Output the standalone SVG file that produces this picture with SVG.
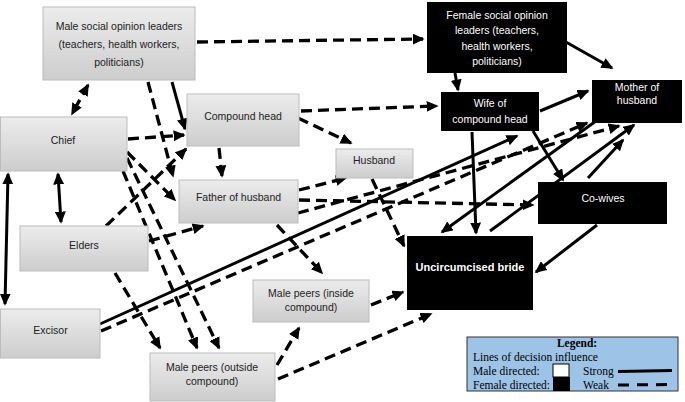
<svg xmlns="http://www.w3.org/2000/svg" width="685" height="402" viewBox="0 0 685 402">
<style>
.g{fill:url(#gr);stroke:#bcbcbc;stroke-width:1}
.b{fill:#000}
.t{font-family:"Liberation Sans",Arial,sans-serif;font-size:10.5px;fill:#222;text-anchor:middle}
.w{font-family:"Liberation Sans",Arial,sans-serif;font-size:10.5px;fill:#fff;text-anchor:middle}
.wb{font-family:"Liberation Sans",Arial,sans-serif;font-size:11px;font-weight:bold;fill:#fff;text-anchor:middle}
.s{stroke:#000;stroke-width:3;fill:none;marker-end:url(#ah)}
.d{stroke:#000;stroke-width:3.3;fill:none;stroke-dasharray:11 6;marker-end:url(#ah)}
.two{marker-start:url(#ah)}
.lg{font-family:"Liberation Serif","Times New Roman",serif;font-size:11.5px;fill:#000}
</style>
<defs>
<linearGradient id="gr" x1="0" y1="0" x2="0" y2="1">
<stop offset="0" stop-color="#ececec"/>
<stop offset="1" stop-color="#cdcdcd"/>
</linearGradient>
<marker id="ah" markerUnits="userSpaceOnUse" markerWidth="12" markerHeight="11" viewBox="0 0 11 10" refX="9.5" refY="5" orient="auto-start-reverse">
<path d="M0,0 L11,5 L0,10 z" fill="#000"/>
</marker>
</defs>

<g id="connectors">
<line class="d" x1="197" y1="42" x2="423" y2="39"/>
<line class="d two" x1="88" y1="85" x2="72" y2="114"/>
<line class="d" x1="148" y1="82" x2="173" y2="176"/>
<line class="d" x1="128" y1="139" x2="184" y2="135"/>
<line class="d" x1="127" y1="152" x2="175" y2="200"/>
<line class="d" x1="123" y1="171" x2="197" y2="348"/>
<line class="d" x1="127" y1="158" x2="219" y2="348"/>
<line class="d" x1="106" y1="226" x2="186" y2="149"/>
<line class="d" x1="149" y1="241" x2="203" y2="226"/>
<line class="d" x1="115" y1="273" x2="160" y2="348"/>
<line class="d" x1="301" y1="111" x2="437" y2="106"/>
<line class="d" x1="298" y1="118" x2="351" y2="143"/>
<line class="d" x1="219" y1="148" x2="222" y2="176"/>
<line class="d" x1="299" y1="190" x2="346" y2="178"/>
<line class="d" x1="299" y1="200" x2="533" y2="205"/>
<line class="d" x1="298" y1="213" x2="619" y2="126"/>
<line class="d" x1="277" y1="225" x2="322" y2="273"/>
<line class="d" x1="372" y1="179" x2="404" y2="246"/>
<line class="d" x1="101" y1="331" x2="587" y2="123"/>
<line class="d" x1="277" y1="365" x2="299" y2="328"/>
<line class="d" x1="278" y1="379" x2="431" y2="314"/>
<line class="d" x1="371" y1="305" x2="403" y2="292"/>

<line class="s" x1="172" y1="82" x2="185" y2="129"/>
<line class="s two" x1="58" y1="174" x2="61" y2="222"/>
<line class="s two" x1="8" y1="174" x2="5" y2="304"/>
<line class="s" x1="100" y1="324" x2="517" y2="136"/>
<line class="s" x1="455" y1="73" x2="458" y2="90"/>
<line class="s" x1="557" y1="37" x2="612" y2="68"/>
<line class="s" x1="540" y1="111" x2="588" y2="91"/>
<line class="s" x1="472" y1="132" x2="476" y2="233"/>
<line class="s" x1="533" y1="131" x2="563" y2="180"/>
<line class="s" x1="596" y1="121" x2="442" y2="232"/>
<line class="s" x1="490" y1="231" x2="634" y2="125"/>
<line class="s" x1="588" y1="178" x2="623" y2="140"/>
<line class="s" x1="597" y1="225" x2="536" y2="272"/>
</g>

<g id="male-sol"><rect class="g" x="43" y="7" width="152" height="73"/>
<text class="t" x="119" y="29.5">Male social opinion leaders</text>
<text class="t" x="119" y="47.5">(teachers, health workers,</text>
<text class="t" x="119" y="65.5">politicians)</text></g>

<g id="chief"><rect class="g" x="0.5" y="117" width="126.5" height="54"/>
<text class="t" x="63" y="143.5">Chief</text></g>

<g id="compound-head"><rect class="g" x="187" y="94" width="112" height="52"/>
<text class="t" x="243" y="119.5">Compound head</text></g>

<g id="father"><rect class="g" x="179" y="180" width="119" height="43"/>
<text class="t" x="238.5" y="200.5">Father of husband</text></g>

<g id="husband"><rect class="g" x="336" y="149" width="77" height="29"/>
<text class="t" x="374" y="164">Husband</text></g>

<g id="elders"><rect class="g" x="20" y="226" width="128" height="45"/>
<text class="t" x="84" y="248.5">Elders</text></g>

<g id="excisor"><rect class="g" x="0.5" y="309" width="99.5" height="49"/>
<text class="t" x="50.5" y="333.5">Excisor</text></g>

<g id="male-peers-outside"><rect class="g" x="150" y="353" width="125" height="48"/>
<text class="t" x="212" y="370.5">Male peers (outside</text>
<text class="t" x="212" y="384.5">compound)</text></g>

<g id="male-peers-inside"><rect class="g" x="253" y="280" width="116" height="42"/>
<text class="t" x="311" y="296.5">Male peers (inside</text>
<text class="t" x="311" y="310.5">compound)</text></g>

<g id="female-sol"><rect class="b" x="427" y="2" width="140" height="71"/>
<text class="w" x="497" y="18.5">Female social opinion</text>
<text class="w" x="497" y="34">leaders (teachers,</text>
<text class="w" x="497" y="49.5">health workers,</text>
<text class="w" x="497" y="65">politicians)</text></g>

<g id="wife"><rect class="b" x="441" y="92" width="98" height="39"/>
<text class="w" x="490" y="106.5">Wife of</text>
<text class="w" x="490" y="122.5">compound head</text></g>

<g id="mother"><rect class="b" x="592" y="80" width="90" height="43"/>
<text class="w" x="637" y="90.5">Mother of</text>
<text class="w" x="637" y="104">husband</text></g>

<g id="co-wives"><rect class="b" x="538" y="182" width="129" height="42"/>
<text class="w" x="603" y="201.5">Co-wives</text></g>

<g id="bride"><rect class="b" x="407" y="236" width="126" height="74"/>
<text class="wb" x="470" y="271">Uncircumcised bride</text></g>

<g id="legend">
<rect x="467" y="337" width="211" height="54" fill="#9dc3e6" stroke="#333" stroke-width="1"/>
<text class="lg" x="577" y="347" text-anchor="middle" font-weight="bold">Legend:</text>
<text class="lg" x="473" y="361">Lines of decision influence</text>
<text class="lg" x="473" y="375">Male directed:</text>
<text class="lg" x="473" y="389">Female directed:</text>
<rect x="553" y="364" width="16" height="13" fill="#fff" stroke="#000" stroke-width="1"/>
<rect x="553" y="377" width="17" height="14" fill="#000"/>
<text class="lg" x="583" y="375">Strong</text>
<text class="lg" x="583" y="389">Weak</text>
<line x1="618" y1="371.5" x2="672" y2="370.5" stroke="#000" stroke-width="3"/>
<line x1="618" y1="385" x2="672" y2="384.5" stroke="#000" stroke-width="3" stroke-dasharray="11 8"/>
</g>
</svg>
